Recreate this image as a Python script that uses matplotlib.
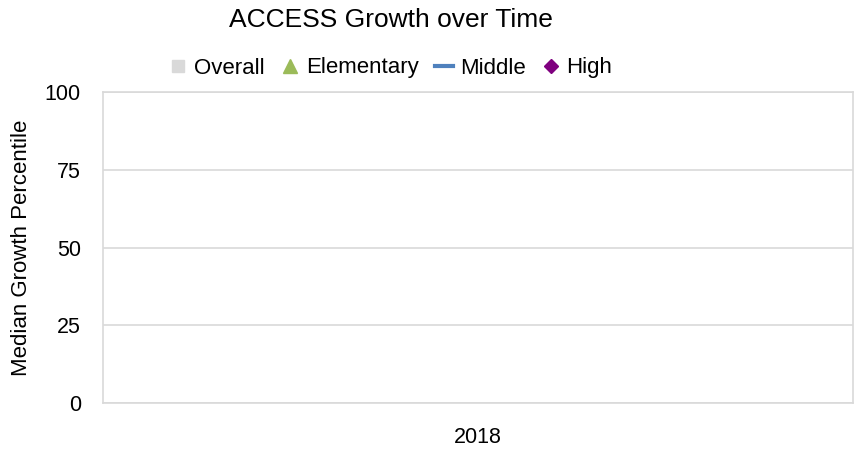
import numpy as np
import matplotlib
matplotlib.use("Agg")
import matplotlib.pyplot as plt
from matplotlib.lines import Line2D

plt.rcParams['font.family'] = ['Liberation Sans Narrow', 'Liberation Sans', 'DejaVu Sans']

categories = ["2018"]
overall = [np.nan]
elementary = [np.nan]
middle = [np.nan]
high = [np.nan]

fig = plt.figure(figsize=(8.56, 4.5), dpi=100)
ax = fig.add_axes([103/856, 1 - 403/450, 750/856, 311/450])

x = np.arange(len(categories))
ax.bar(x, overall, color="#d9d9d9", width=0.5)
ax.plot(x, elementary, marker="^", color="#9bbb59")
ax.plot(x, middle, color="#4f81bd", lw=2.5)
ax.plot(x, high, marker="D", color="#7f007f", ls="none")

ax.set_xlim(-0.5, len(categories) - 0.5)
ax.set_ylim(0, 100)
ax.set_yticks([0, 25, 50, 75, 100])
ax.set_xticks(x)
ax.set_xticklabels(categories)
ax.tick_params(axis="both", length=0, labelsize=15.5)
ax.tick_params(axis="y", pad=16)
ax.tick_params(axis="x", pad=17)
ax.grid(axis="y", color="#d9d9d9", lw=1.2)
ax.set_axisbelow(True)
for s in ax.spines.values():
    s.set_color("#d9d9d9")
    s.set_linewidth(1.2)
ax.set_ylabel("Median Growth Percentile", fontsize=16, labelpad=9)

fig.text(391/856, 1 - 20/450, "ACCESS Growth over Time", ha="center", va="center", fontsize=19)

handles = [
    Line2D([], [], marker="s", color="#d9d9d9", ls="none", markersize=9),
    Line2D([], [], marker="^", color="#9bbb59", ls="none", markersize=10),
    Line2D([], [], color="#4f81bd", lw=3),
    Line2D([], [], marker="D", color="#7f007f", ls="none", markersize=7),
]
fig.legend(handles, ["Overall", "Elementary", "Middle", "High"], loc="center",
           bbox_to_anchor=(391/856, 1 - 68/450), ncol=4, frameon=False,
           fontsize=16, handlelength=0.8, handletextpad=0.3, columnspacing=0.75)

fig.savefig("out.png", dpi=100)
